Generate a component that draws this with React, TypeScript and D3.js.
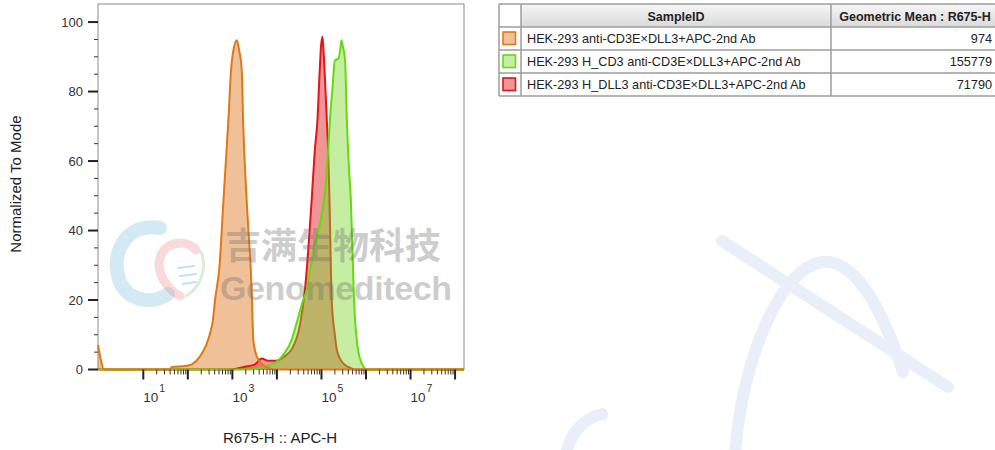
import * as d3 from 'd3';

// sample table
const sampleIds = [
  'HEK-293 anti-CD3E×DLL3+APC-2nd Ab',
  'HEK-293 H_CD3 anti-CD3E×DLL3+APC-2nd Ab',
  'HEK-293 H_DLL3 anti-CD3E×DLL3+APC-2nd Ab',
];
const geoMeans = ['974', '155779', '71790'];

// histogram traces: x in decades (log10 R675-H), y in % of mode
const hekDecades = [-0.017, 0.028, 0.117, 1.6, 1.64, 1.94, 2.09, 2.27, 2.41, 2.5, 2.56, 2.61, 2.71, 2.8, 2.83, 2.91, 2.97, 3.04, 3.1, 3.15, 3.21, 3.24, 3.32, 3.36, 3.41, 3.44, 3.47, 3.55, 3.69, 3.84, 3.95, 8.2];
const hekPct = [7, 4, 0, 0, 0.7, 1, 1.5, 3.7, 7, 10.5, 14, 20, 29.6, 48.8, 55, 71.8, 86.2, 93, 94.8, 92, 86.2, 71.8, 48.8, 40, 29.6, 20, 8.5, 3.7, 1.3, 0.3, 0, 0];

const cd3Decades = [-0.017, 3.4, 3.69, 3.84, 3.99, 4.14, 4.33, 4.44, 4.59, 4.67, 4.82, 5.0, 5.06, 5.12, 5.15, 5.19, 5.25, 5.3, 5.38, 5.42, 5.45, 5.48, 5.53, 5.57, 5.62, 5.66, 5.73, 5.81, 5.9, 6.02, 8.2];
const cd3Pct = [0, 0, 0.6, 1.3, 2.2, 4.2, 8.5, 13.3, 20, 22.9, 34.4, 44, 48.8, 57.4, 63, 71.8, 81.4, 89, 89.5, 92, 94.8, 93, 89, 71.8, 57.4, 48.8, 20, 6.6, 1.9, 0, 0];

const dll3Decades = [-0.017, 2.95, 3.28, 3.51, 3.66, 3.8, 3.98, 4.14, 4.34, 4.52, 4.63, 4.78, 4.85, 4.91, 4.96, 4.99, 5.02, 5.04, 5.07, 5.12, 5.15, 5.18, 5.23, 5.3, 5.34, 5.42, 5.53, 5.64, 5.77, 8.2];
const dll3Pct = [0, 0, 0.8, 1.5, 3.2, 2.5, 2.5, 3.5, 6, 13, 23, 48.8, 63, 71.8, 86, 93, 95.8, 93, 86, 71.8, 63, 48.8, 20, 10, 6, 3, 1.3, 0.5, 0, 0];

const yTicks = [0, 20, 40, 60, 80, 100];
const yMinorStep = 5;
const xDecades = [1, 2, 3, 4, 5, 6, 7, 8];
const xLabelDecades = [1, 3, 5, 7];

const lineColors = ['#E07814', '#66DA0A', '#E3141C'];
const fillColors = ['rgba(226,132,52,0.5)', 'rgba(128,218,50,0.45)', 'rgba(222,45,45,0.5)'];

const font = 'Liberation Sans, Arial, sans-serif';
const W = 995;
const H = 450;
const plot = {left: 98, right: 464, top: 4, bottom: 369.5};

const x = d3.scaleLog().domain([10 ** -0.017, 10 ** 8.2]).range([plot.left, plot.right]);
const y = d3.scaleLinear().domain([0, 105.2]).range([plot.bottom, plot.top]);

type Pt = [number, number];
const zipped = (xs: number[], ys: number[]): Pt[] => xs.map((v, i) => [v, ys[i]]);

const area = d3
  .area<Pt>()
  .x((d) => x(10 ** d[0]))
  .y0(y(0))
  .y1((d) => y(d[1]))
  .curve(d3.curveMonotoneX);
const line = d3
  .line<Pt>()
  .x((d) => x(10 ** d[0]))
  .y((d) => y(d[1]))
  .curve(d3.curveMonotoneX);

const hek = zipped(hekDecades, hekPct);
const cd3 = zipped(cd3Decades, cd3Pct);
const dll3 = zipped(dll3Decades, dll3Pct);

// table geometry
const tbl = {left: 499, c1: 521, c2: 831, right: 999, top: 4, header: 27, row: 23};

const App = () => {
  const yMinor = d3.range(0, 101, yMinorStep).filter((v) => v % 20 !== 0);
  const xMinor: number[] = [];
  xDecades.slice(0, -1).forEach((dec) => {
    for (let k = 2; k <= 9; k++) xMinor.push(k * 10 ** dec);
  });

  return (
    <svg
      width={W}
      height={H}
      style={{position: 'absolute', left: 0, top: 0, background: '#fff'}}
      fontFamily={font}
    >
      <defs>
        <linearGradient id='hdr' x1='0' y1='0' x2='0' y2='1'>
          <stop offset='0' stopColor='#F6F6F6' />
          <stop offset='1' stopColor='#DADADA' />
        </linearGradient>
      </defs>

      {/* big background watermark strokes */}
      <g fill='none' stroke='#E9EFF9' strokeWidth={12} strokeLinecap='round'>
        <path d='M722,241 L948,387' />
        <path d='M735,455 C742,360 780,268 822,262 C858,258 886,320 903,372' />
        <path d='M602,414 C585,418 570,432 566,455' />
      </g>

      {/* plot frame */}
      <rect x={plot.left} y={plot.top} width={plot.right - plot.left} height={plot.bottom - plot.top} fill='none' stroke='#8C8C8C' strokeWidth={1} />

      {/* fills and lines */}
      <path d={area(hek)!} fill={fillColors[0]} />
      <path d={area(dll3)!} fill={fillColors[2]} />
      <path d={line(dll3)!} fill='none' stroke={lineColors[2]} strokeWidth={2} />
      <path d={area(cd3)!} fill={fillColors[1]} />
      <path d={line(cd3)!} fill='none' stroke={lineColors[1]} strokeWidth={2} />
      <path d={line(hek)!} fill='none' stroke={lineColors[0]} strokeWidth={2} />

      {/* watermark logo + text */}
      <g fill='none' strokeLinecap='round'>
        <path d='M160,228 C128,222 112,250 118,276 C124,300 150,306 168,294' stroke='rgba(120,190,225,0.33)' strokeWidth={14} />
        <path d='M196,250 C186,238 164,242 160,258 C156,274 168,290 180,296' stroke='rgba(235,130,130,0.3)' strokeWidth={9} />
        <path d='M201,252 C208,268 200,288 186,296' stroke='rgba(160,215,140,0.4)' strokeWidth={3} />
        <path d='M178,268 L194,266 M180,276 L196,274 M183,284 L196,282' stroke='rgba(120,190,225,0.45)' strokeWidth={2} />
      </g>
      <text x={225} y={259} fontSize={36} fontWeight='bold' fontFamily='Noto Sans CJK SC' fill='rgba(110,110,110,0.36)'>
        吉满生物科技
      </text>
      <text x={220} y={300} fontSize={34} fontWeight='bold' fill='rgba(110,110,110,0.36)' textLength={232}>
        Genomeditech
      </text>

      {/* y axis */}
      {yTicks.map((t) => (
        <g key={t}>
          <line x1={plot.left - 10} x2={plot.left} y1={y(t)} y2={y(t)} stroke='#222' strokeWidth={2} />
          <text x={83} y={y(t) + 4.5} fontSize={13} textAnchor='end' fill='#333'>
            {t}
          </text>
        </g>
      ))}
      {yMinor.map((t) => (
        <line key={t} x1={plot.left - 4} x2={plot.left} y1={y(t)} y2={y(t)} stroke='#333' strokeWidth={1} />
      ))}
      <text transform='translate(21,184) rotate(-90)' fontSize={15} textAnchor='middle' fill='#222'>
        Normalized To Mode
      </text>

      {/* x axis */}
      {xDecades.map((d) => (
        <line key={d} x1={x(10 ** d)} x2={x(10 ** d)} y1={plot.bottom} y2={plot.bottom + 10} stroke='#222' strokeWidth={2} />
      ))}
      {xMinor.map((v) => (
        <line key={v} x1={x(v)} x2={x(v)} y1={plot.bottom} y2={plot.bottom + 5} stroke='#333' strokeWidth={1} />
      ))}
      {xLabelDecades.map((d) => (
        <g key={d} fill='#333'>
          <text x={x(10 ** d)} y={401.5} fontSize={13.5}>
            10
          </text>
          <text x={x(10 ** d) + 16} y={391.5} fontSize={10.5}>
            {d}
          </text>
        </g>
      ))}
      <text x={280} y={443} fontSize={15} textAnchor='middle' fill='#222'>
        R675-H :: APC-H
      </text>

      {/* sample table */}
      <rect x={tbl.c1} y={tbl.top} width={tbl.right - tbl.c1} height={tbl.header - tbl.top} fill='url(#hdr)' />
      <g stroke='#9C9C9C' strokeWidth={1.5}>
        {[tbl.top, tbl.header, tbl.header + tbl.row, tbl.header + 2 * tbl.row, tbl.header + 3 * tbl.row].map((yy) => (
          <line key={yy} x1={tbl.left} x2={tbl.right} y1={yy} y2={yy} />
        ))}
        {[tbl.left, tbl.c1, tbl.c2].map((xx) => (
          <line key={xx} x1={xx} x2={xx} y1={tbl.top} y2={tbl.header + 3 * tbl.row} />
        ))}
      </g>
      <text x={(tbl.c1 + tbl.c2) / 2} y={20.5} fontSize={12.5} fontWeight='bold' textAnchor='middle' fill='#222'>
        SampleID
      </text>
      <text x={915} y={20.5} fontSize={12.5} fontWeight='bold' textAnchor='middle' fill='#222'>
        Geometric Mean : R675-H
      </text>
      {sampleIds.map((s, i) => {
        const cy = tbl.header + tbl.row * i + tbl.row / 2;
        return (
          <g key={s}>
            <rect x={503} y={cy - 6.5} width={12.5} height={12.5} fill={fillColors[i]} stroke={lineColors[i]} strokeWidth={1.6} />
            <text x={527} y={cy + 4.5} fontSize={12.7} fill='#222'>
              {s}
            </text>
            <text x={992} y={cy + 4.5} fontSize={12.7} textAnchor='end' fill='#222'>
              {geoMeans[i]}
            </text>
          </g>
        );
      })}
    </svg>
  );
};

export default App;
